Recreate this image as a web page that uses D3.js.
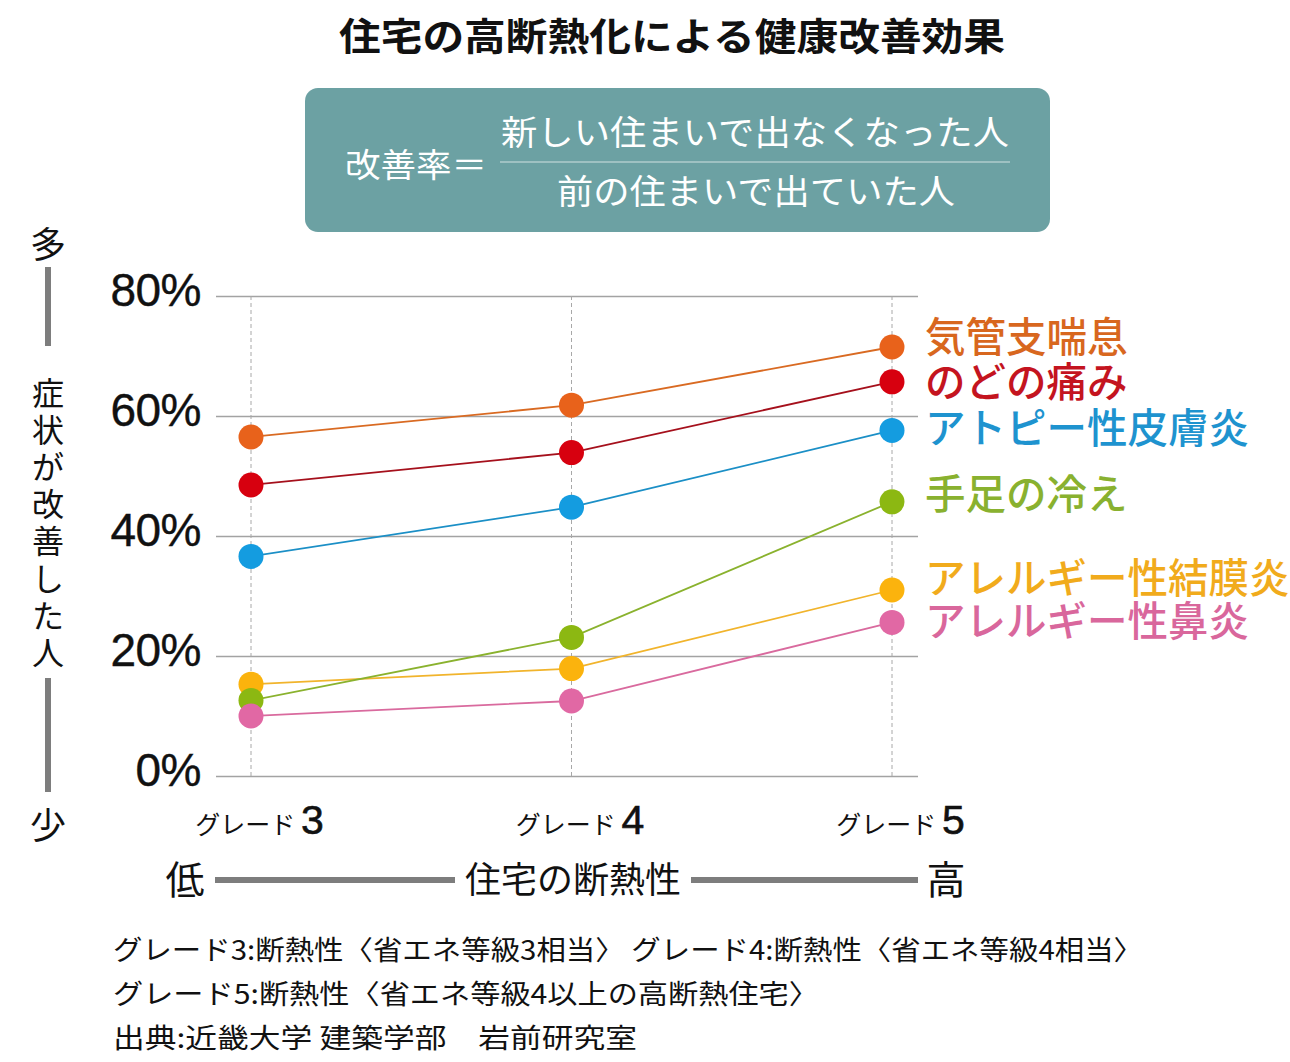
<!DOCTYPE html>
<html><head><meta charset="utf-8">
<script src="https://cdn.jsdelivr.net/npm/d3@7/dist/d3.min.js"></script>
<style>
html,body{margin:0;padding:0;background:#fff;}
svg{display:block;}
</style></head>
<body>
<svg id="chart" width="1290" height="1062"></svg>
<script>
const title = "住宅の高断熱化による健康改善効果";
const formulaLabel = "改善率＝";
const numerator = "新しい住まいで出なくなった人";
const denominator = "前の住まいで出ていた人";
const grades = ["3", "4", "5"];
const gradePrefix = "グレード";
const yTicks = [0, 20, 40, 60, 80];
const seriesNames = ["気管支喘息", "のどの痛み", "アトピー性皮膚炎", "手足の冷え", "アレルギー性結膜炎", "アレルギー性鼻炎"];
const bronchialAsthma = [56.5, 61.8, 71.5];
const soreThroat = [48.5, 53.9, 65.7];
const atopicDermatitis = [36.6, 44.8, 57.6];
const coldHandsFeet = [12.6, 23.1, 45.7];
const allergicConjunctivitis = [15.3, 17.9, 31.0];
const allergicRhinitis = [10.0, 12.5, 25.6];
const yAxisWords = ["多", "症状が改善した人", "少"];
const xAxisWords = ["低", "住宅の断熱性", "高"];
const notes = [
  "グレード3:断熱性〈省エネ等級3相当〉 グレード4:断熱性〈省エネ等級4相当〉",
  "グレード5:断熱性〈省エネ等級4以上の高断熱住宅〉",
  "出典:近畿大学 建築学部　岩前研究室"
];

const seriesValues = [bronchialAsthma, soreThroat, atopicDermatitis, coldHandsFeet, allergicConjunctivitis, allergicRhinitis];
const markerColors = ["#e8621b", "#d7000f", "#149ce0", "#8cb812", "#fbb30d", "#e168a4"];
const lineColors = ["#d96a22", "#a5101c", "#1b8fc6", "#8ab22e", "#f1b42c", "#d96a9e"];
const labelColors = ["#d8671e", "#c4141f", "#1e93cf", "#89b12f", "#f1ab1c", "#d9679c"];
const labelY = [337, 382, 428, 494, 578, 621];

const svg = d3.select("#chart");
const JP = '"Noto Sans CJK JP","Noto Sans",sans-serif';
const LAT = '"Liberation Sans",Arial,Helvetica,sans-serif';

// Title
svg.append("text").attr("x", 672).attr("y", 50).attr("text-anchor", "middle")
  .attr("font-family", JP).attr("font-weight", "bold").attr("font-size", 38)
  .attr("textLength", 666).attr("lengthAdjust", "spacingAndGlyphs")
  .attr("fill", "#111").text(title);

// Formula box
svg.append("rect").attr("x", 305).attr("y", 88).attr("width", 745).attr("height", 144)
  .attr("rx", 13).attr("fill", "#6ca1a3");
svg.append("text").attr("x", 345).attr("y", 177).attr("font-family", JP).attr("font-size", 33)
  .attr("textLength", 142).attr("lengthAdjust", "spacingAndGlyphs")
  .attr("fill", "#fff").text(formulaLabel);
svg.append("text").attr("x", 755).attr("y", 145).attr("text-anchor", "middle").attr("font-family", JP)
  .attr("font-size", 34).attr("textLength", 508).attr("lengthAdjust", "spacingAndGlyphs")
  .attr("fill", "#fff").text(numerator);
svg.append("line").attr("x1", 500).attr("x2", 1010).attr("y1", 162).attr("y2", 162)
  .attr("stroke", "#cfe2e2").attr("stroke-width", 1.2);
svg.append("text").attr("x", 756).attr("y", 204).attr("text-anchor", "middle").attr("font-family", JP)
  .attr("font-size", 34).attr("textLength", 398).attr("lengthAdjust", "spacingAndGlyphs")
  .attr("fill", "#fff").text(denominator);

// Scales
const x = d3.scalePoint().domain(grades).range([251, 892]);
const y = d3.scaleLinear().domain([0, 80]).range([776, 296]);
const gridLeft = 216, gridRight = 918;

// Y axis with gridlines
const yAxis = d3.axisLeft(y).tickValues(yTicks).tickFormat(d => d + "%")
  .tickSize(-(gridRight - gridLeft)).tickPadding(16);
const yg = svg.append("g").attr("transform", `translate(${gridLeft},0)`).call(yAxis);
yg.select(".domain").remove();
yg.selectAll(".tick line").attr("stroke", "#a3a3a3").attr("stroke-width", 1.3);
yg.selectAll(".tick text").attr("font-family", LAT).attr("font-size", 46).attr("fill", "#111")
  .attr("dy", "0.34em").attr("y", -6).attr("x", -15).attr("letter-spacing", -0.5)
  .attr("stroke", "#111").attr("stroke-width", 0.4);

// Vertical dashed lines
svg.append("g").selectAll("line").data(grades).join("line")
  .attr("x1", d => x(d)).attr("x2", d => x(d)).attr("y1", y(80)).attr("y2", y(0))
  .attr("stroke", "#a8a8a8").attr("stroke-width", 1).attr("stroke-dasharray", "4,3");

// X axis labels
const xAxis = d3.axisBottom(x).tickSize(0).tickFormat(d => d);
const xg = svg.append("g").attr("transform", "translate(0,776)").call(xAxis);
xg.select(".domain").remove();
xg.selectAll(".tick text").each(function(d) {
  const t = d3.select(this);
  t.text(null).attr("y", 58).attr("dy", null).attr("x", 8).attr("text-anchor", "middle").attr("fill", "#111");
  t.append("tspan").attr("font-family", JP).attr("font-size", 25).text(gradePrefix + " ");
  t.append("tspan").attr("font-family", LAT).attr("font-size", 41)
    .attr("stroke", "#111").attr("stroke-width", 0.6).text(d);
});

// Lines and markers
const lineGen = d3.line().x((d, i) => x(grades[i])).y(d => y(d));
const drawOrder = [0, 1, 2, 4, 3, 5];
drawOrder.forEach(si => {
  svg.append("path").datum(seriesValues[si]).attr("d", lineGen)
    .attr("fill", "none").attr("stroke", lineColors[si]).attr("stroke-width", 1.8);
});
drawOrder.forEach(si => {
  svg.append("g").selectAll("circle").data(seriesValues[si]).join("circle")
    .attr("cx", (d, i) => x(grades[i])).attr("cy", d => y(d)).attr("r", 12.5)
    .attr("fill", markerColors[si]);
});

// Series labels
svg.append("g").selectAll("text").data(seriesNames).join("text")
  .attr("x", 925).attr("y", (d, i) => labelY[i]).attr("dy", "0.36em")
  .attr("font-family", JP).attr("font-size", 40.5).attr("font-weight", 500)
  .attr("fill", (d, i) => labelColors[i]).text(d => d);

// Left vertical axis caption
svg.append("text").attr("x", 48).attr("y", 245).attr("dy", "0.36em").attr("text-anchor", "middle")
  .attr("font-family", JP).attr("font-size", 36).attr("fill", "#111").text(yAxisWords[0]);
svg.append("line").attr("x1", 48).attr("x2", 48).attr("y1", 267).attr("y2", 346)
  .attr("stroke", "#7d7d7d").attr("stroke-width", 6);
const vchars = Array.from(yAxisWords[1]);
svg.append("g").selectAll("text").data(vchars).join("text")
  .attr("x", 48).attr("y", (d, i) => 393 + i * 37.2).attr("dy", "0.36em").attr("text-anchor", "middle")
  .attr("font-family", JP).attr("font-size", 32).attr("fill", "#111").text(d => d);
svg.append("line").attr("x1", 48).attr("x2", 48).attr("y1", 678).attr("y2", 792)
  .attr("stroke", "#7d7d7d").attr("stroke-width", 6);
svg.append("text").attr("x", 48).attr("y", 826).attr("dy", "0.36em").attr("text-anchor", "middle")
  .attr("font-family", JP).attr("font-size", 36).attr("fill", "#111").text(yAxisWords[2]);

// Bottom axis caption
svg.append("text").attr("x", 185).attr("y", 880).attr("dy", "0.36em").attr("text-anchor", "middle")
  .attr("font-family", JP).attr("font-size", 39).attr("fill", "#111").text(xAxisWords[0]);
svg.append("line").attr("x1", 215).attr("x2", 455).attr("y1", 880).attr("y2", 880)
  .attr("stroke", "#7d7d7d").attr("stroke-width", 6);
svg.append("text").attr("x", 573).attr("y", 880).attr("dy", "0.36em").attr("text-anchor", "middle")
  .attr("font-family", JP).attr("font-size", 36).attr("textLength", 216).attr("lengthAdjust", "spacingAndGlyphs")
  .attr("fill", "#111").text(xAxisWords[1]);
svg.append("line").attr("x1", 691).attr("x2", 918).attr("y1", 880).attr("y2", 880)
  .attr("stroke", "#7d7d7d").attr("stroke-width", 6);
svg.append("text").attr("x", 946).attr("y", 880).attr("dy", "0.36em").attr("text-anchor", "middle")
  .attr("font-family", JP).attr("font-size", 39).attr("fill", "#111").text(xAxisWords[2]);

// Notes
const noteLens = [1030, 706, 524];
svg.append("g").selectAll("text").data(notes).join("text")
  .attr("x", 113).attr("y", (d, i) => 960 + i * 44)
  .attr("font-family", JP).attr("font-size", 27)
  .attr("textLength", (d, i) => noteLens[i]).attr("lengthAdjust", "spacingAndGlyphs")
  .attr("fill", "#111").text(d => d);
</script>
</body></html>
